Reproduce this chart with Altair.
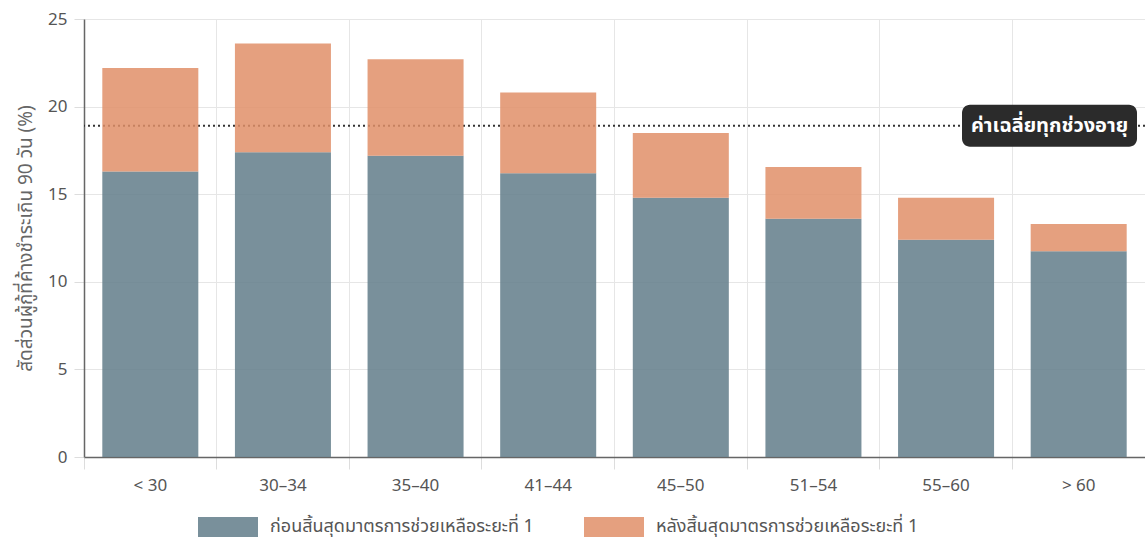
import altair as alt
import pandas as pd

ages = ["< 30", "30–34", "35–40", "41–44", "45–50", "51–54", "55–60", "> 60"]
before = [16.3, 17.4, 17.2, 16.2, 14.8, 13.6, 12.4, 11.75]
total = [22.2, 23.6, 22.7, 20.8, 18.5, 16.55, 14.8, 13.3]
series = ["ก่อนสิ้นสุดมาตรการช่วยเหลือระยะที่ 1", "หลังสิ้นสุดมาตรการช่วยเหลือระยะที่ 1"]
colors = ["#627c8a", "#e18f68"]
avg_value = 18.9
avg_label = "ค่าเฉลี่ยทุกช่วงอายุ"
y_title = "สัดส่วนผู้กู้ที่ค้างชำระเกิน 90 วัน (%)"

FONT = "Noto Sans Thai, Roboto, Noto Sans, sans-serif"

rows = []
for a, b, t in zip(ages, before, total):
    rows.append({"age": a, "series": series[0], "value": b, "ord": 0})
    rows.append({"age": a, "series": series[1], "value": round(t - b, 3), "ord": 1})
df = pd.DataFrame(rows)
avg_df = pd.DataFrame({"age": [ages[-1]], "avg": [avg_value], "label": [avg_label]})

legend_path = "M-3,-1 H3 V1 H-3 Z"
r = 0.4
box_hw, box_hh = 4.375, 1.05
box_path = (
    f"M{-box_hw + r},{-box_hh} H{box_hw - r} A{r},{r} 0 0 1 {box_hw},{-box_hh + r} "
    f"V{box_hh - r} A{r},{r} 0 0 1 {box_hw - r},{box_hh} H{-box_hw + r} "
    f"A{r},{r} 0 0 1 {-box_hw},{box_hh - r} V{-box_hh + r} A{r},{r} 0 0 1 {-box_hw + r},{-box_hh} Z"
)

x_scale = alt.Scale(domain=ages, paddingInner=0, paddingOuter=0)
y_scale = alt.Scale(domain=[0, 25], nice=False)

rule = alt.Chart(avg_df).mark_rule(strokeDash=[2, 3], strokeWidth=2, color="#333333").encode(
    y=alt.Y("avg:Q", scale=y_scale)
)

bars = alt.Chart(df).mark_bar(opacity=0.85, width=alt.RelativeBandSize(0.724)).encode(
    x=alt.X(
        "age:N",
        scale=x_scale,
        sort=ages,
        axis=alt.Axis(
            title=None,
            labelAngle=0,
            bandPosition=0,
            grid=True,
            gridColor="#e6e6e6",
            tickColor="#dddddd",
            tickSize=12,
            labelPadding=8,
            domainColor="#666666",
            domainWidth=1.5,
        ),
    ),
    y=alt.Y(
        "value:Q",
        stack="zero",
        scale=y_scale,
        axis=alt.Axis(
            title=y_title,
            values=[0, 5, 10, 15, 20, 25],
            grid=True,
            gridColor="#e6e6e6",
            tickColor="#dddddd",
            tickSize=10,
            labelPadding=7,
            domainColor="#666666",
            domainWidth=1.5,
            titlePadding=12,
        ),
    ),
    color=alt.Color(
        "series:N",
        scale=alt.Scale(domain=series, range=colors),
        legend=alt.Legend(
            title=None,
            orient="none",
            direction="horizontal",
            legendX=134,
            legendY=498,
            symbolType=legend_path,
            symbolSize=400,
            symbolStrokeWidth=0,
            labelOffset=32,
            columnPadding=50,
            padding=0,
        ),
    ),
    order=alt.Order("ord:Q", sort="ascending"),
)

box = alt.Chart(avg_df).mark_point(
    shape=box_path, size=1600, filled=True, color="#2b2b2b", opacity=1, strokeWidth=0
).encode(
    x=alt.X("age:N", bandPosition=0.28, scale=x_scale),
    y=alt.Y("avg:Q", scale=y_scale),
)

text = alt.Chart(avg_df).mark_text(
    color="white", fontWeight="bold", fontSize=20, font=FONT, baseline="middle", align="center"
).encode(
    x=alt.X("age:N", bandPosition=0.28, scale=x_scale),
    y=alt.Y("avg:Q", scale=y_scale),
    text="label:N",
)

chart = (
    alt.layer(rule, bars, box, text)
    .properties(
        width=1061,
        height=438,
        autosize=alt.AutoSizeParams(type="none"),
        padding={"left": 84, "top": 19, "right": 0, "bottom": 84},
    )
    .configure_view(stroke=None)
    .configure_axis(
        labelFont=FONT,
        titleFont=FONT,
        labelFontSize=17,
        titleFontSize=19,
        labelColor="#555555",
        titleColor="#666666",
        titleFontWeight="normal",
    )
    .configure_legend(labelFont=FONT, labelFontSize=18, labelColor="#555555", labelLimit=400)
)

chart.save("out.html", embed_options={"renderer": "svg", "actions": False})
